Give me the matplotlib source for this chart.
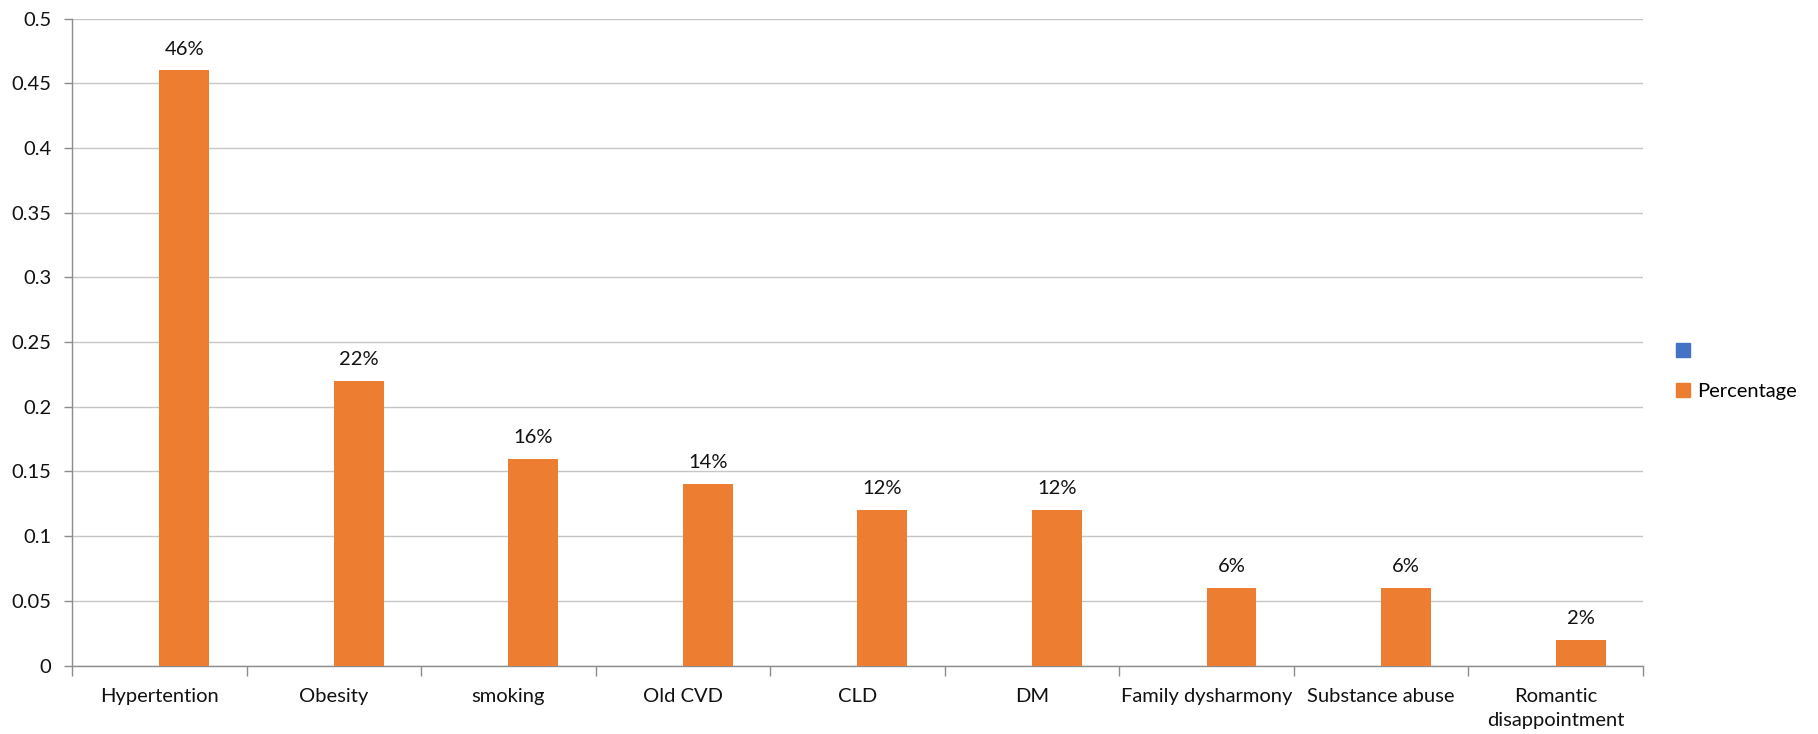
import matplotlib
matplotlib.use("Agg")
import matplotlib.pyplot as plt
from matplotlib.patches import Patch
import numpy as np

plt.rcParams['font.family'] = ['Lato', 'DejaVu Sans']

categories = ["Hypertention", "Obesity", "smoking", "Old CVD", "CLD", "DM",
              "Family dysharmony", "Substance abuse", "Romantic\ndisappointment"]
percentage = [0.46, 0.22, 0.16, 0.14, 0.12, 0.12, 0.06, 0.06, 0.02]
yticks = [0, 0.05, 0.1, 0.15, 0.2, 0.25, 0.3, 0.35, 0.4, 0.45, 0.5]

orange = '#ED7D31'
blue = '#4472C4'
grey = '#8c8c8c'
txt = '#111111'

fig = plt.figure(figsize=(18.18, 7.34), dpi=100)
ax = fig.add_axes([0.0396, 0.0933, 0.8641, 0.8812])

x = np.arange(len(categories))
bw = 0.286
bars = ax.bar(x + bw / 2, percentage, width=bw, color=orange, zorder=3)
for b, v in zip(bars, percentage):
    ax.text(b.get_x() + b.get_width() / 2, v + 0.01, f"{v * 100:.0f}%",
            ha='center', va='bottom', fontsize=14.5, color=txt)

ax.set_xlim(-0.5, len(categories) - 0.5)
ax.set_ylim(0, 0.5)
ax.set_yticks(yticks)
ax.set_yticklabels([f"{t:g}" for t in yticks])
ax.yaxis.grid(True, color='#c6c6c6', lw=1, zorder=0)

# category boundaries get the tick marks, labels sit at the centres
ax.set_xticks(np.arange(len(categories) + 1) - 0.5)
ax.set_xticklabels([])
ax.set_xticks(x, minor=True)
ax.set_xticklabels(categories, minor=True, fontsize=14.5, color=txt,
                   linespacing=1.5)
ax.tick_params(axis='x', which='major', length=7, color=grey, width=1)
ax.tick_params(axis='x', which='minor', length=0, pad=16)
ax.tick_params(axis='y', length=6, color=grey, width=1, pad=9,
               labelsize=14.5, labelcolor=txt)

for s in ['top', 'right']:
    ax.spines[s].set_visible(False)
for s in ['left', 'bottom']:
    ax.spines[s].set_color(grey)
    ax.spines[s].set_linewidth(1)

handles = [Patch(color=blue, label=' '), Patch(color=orange, label='Percentage')]
fig.legend(handles=handles, loc='upper left', bbox_to_anchor=(0.912, 0.557),
           frameon=False, fontsize=14.5, handlelength=0.7, handleheight=0.7,
           handletextpad=0.35, labelspacing=1.1)

fig.savefig("out.png", dpi=100)
